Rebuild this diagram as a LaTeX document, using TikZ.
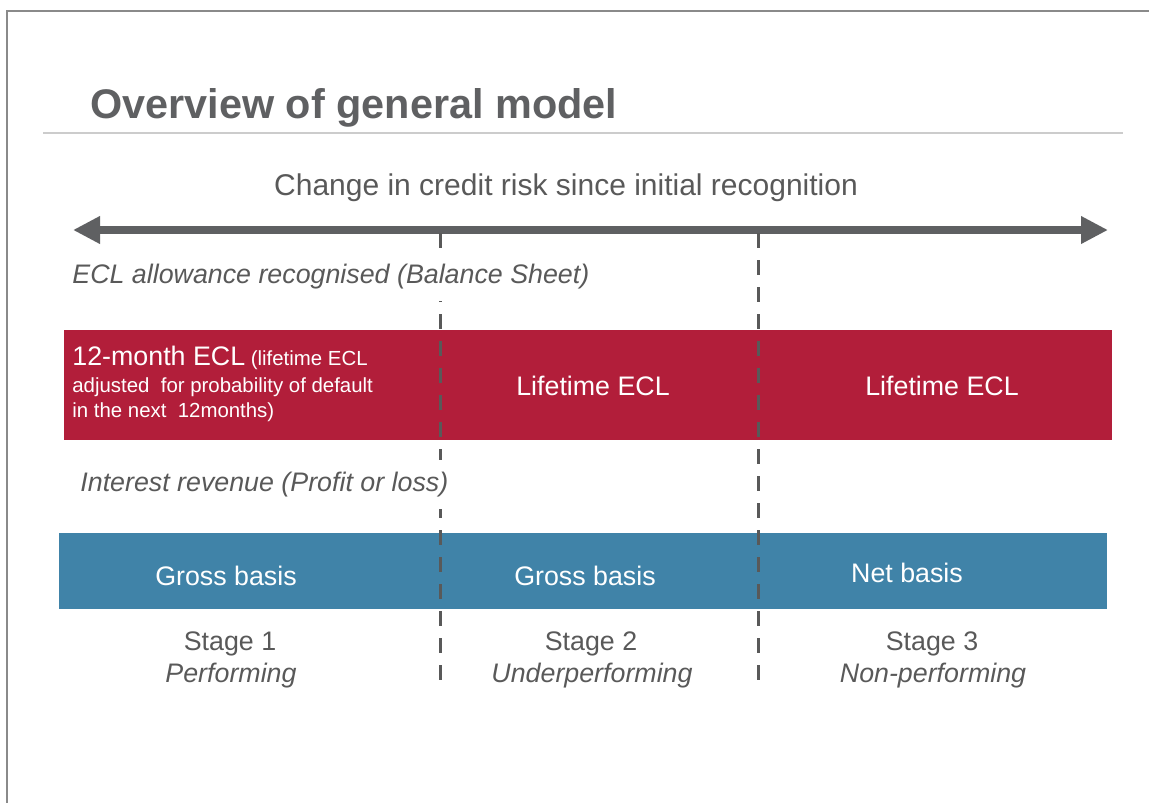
\documentclass[tikz,border=0pt]{standalone}
\usepackage{fontspec}
\setmainfont{Liberation Sans}
\usetikzlibrary{arrows.meta}
\definecolor{titlegray}{HTML}{5F6062}
\definecolor{textgray}{HTML}{595959}
\definecolor{framegray}{HTML}{8A8A8A}
\definecolor{rulegray}{HTML}{CCCCCC}
\definecolor{arrowgray}{HTML}{5F6062}
\definecolor{eclred}{HTML}{B21E3A}
\definecolor{basisblue}{HTML}{4083A8}
\tikzset{
  bodyfont/.style={font=\fontsize{13.4bp}{16bp}\selectfont},
  plaintext/.style={bodyfont, text=textgray, inner sep=0pt},
  stagename/.style={plaintext, font=\fontsize{13.4bp}{16bp}\selectfont\itshape},
  heading/.style={stagename, fill=white, inner xsep=0pt, inner ysep=6bp},
  bandtext/.style={bodyfont, text=white, inner sep=0pt},
  divider/.style={textgray, line width=1.5bp, dash pattern=on 7.5bp off 6bp},
  riskarrow/.style={arrowgray, line width=4bp,
    {Triangle[length=13.5bp,width=13bp]}-{Triangle[length=13.5bp,width=13bp]}}
}

\begin{document}
\begin{tikzpicture}[x=0.5bp, y=-0.5bp]
\useasboundingbox (0,0) rectangle (1149,803);
\draw[framegray, line width=1bp] (1149,11) -- (7,11) -- (7,803);
\coordinate (ruleL) at (43,133);
\coordinate (ruleR) at (1123,133);
\draw[rulegray, line width=1bp] (ruleL) -- (ruleR);
\node[text=titlegray, inner sep=0pt, font=\fontsize{20.7bp}{24bp}\selectfont\bfseries, anchor=base west] (title) at (90,118) {Overview of general model};
\node[plaintext, font=\fontsize{15bp}{18bp}\selectfont, anchor=base] (axis) at (566,195) {Change in credit risk since initial recognition};
\coordinate (arrL) at (73,230);
\coordinate (arrR) at (1108,230);
\draw[riskarrow] (arrL) -- (arrR);

\fill[eclred] (64,330) rectangle (1112,440);
\fill[basisblue] (59,533) rectangle (1107,609);

\coordinate (cutAtop) at (440,233);
\coordinate (cutAbot) at (440,692);
\coordinate (cutBtop) at (758,233);
\coordinate (cutBbot) at (758,692);
\draw[divider] (cutAtop) -- (cutAbot);
\draw[divider] (cutBtop) -- (cutBbot);

\node[heading, anchor=base west] (allowance) at (72,283) {ECL allowance recognised (Balance Sheet)};
\node[bandtext, font=\fontsize{10.2bp}{12.5bp}\selectfont, align=left, anchor=base west] (twelve) at (72,417)
  {{\fontsize{13.4bp}{13.5bp}\selectfont 12-month ECL} (lifetime ECL\\[1bp]adjusted\ \ for probability of default\\in the next\ \ 12months)};
\node[bandtext, anchor=base] (lifeA) at (593,395) {Lifetime ECL};
\node[bandtext, anchor=base] (lifeB) at (942,395) {Lifetime ECL};

\node[heading, anchor=base west] (revenue) at (80,491) {Interest revenue (Profit or loss)};
\node[bandtext, anchor=base] (grossA) at (226,585) {Gross basis};
\node[bandtext, anchor=base] (grossB) at (585,585) {Gross basis};
\node[bandtext, anchor=base] (net) at (907,582) {Net basis};

\node[plaintext, anchor=base] (stageA) at (230,650) {Stage 1};
\node[plaintext, anchor=base] (stageB) at (591,650) {Stage 2};
\node[plaintext, anchor=base] (stageC) at (932,650) {Stage 3};
\node[stagename, anchor=base] (perfA) at (231,682) {Performing};
\node[stagename, anchor=base] (perfB) at (592,682) {Underperforming};
\node[stagename, anchor=base] (perfC) at (933,682) {Non-performing};
\end{tikzpicture}
\end{document}
